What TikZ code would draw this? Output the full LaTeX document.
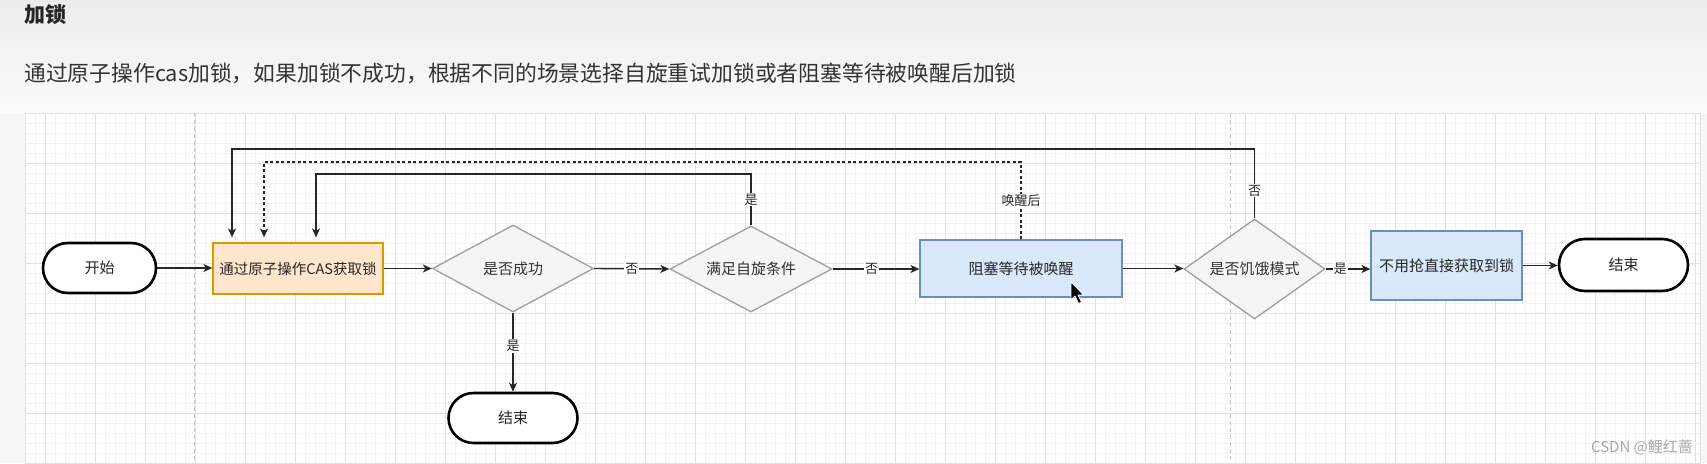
\documentclass[tikz,border=0pt]{standalone}
\usepackage{fontspec}
\setmainfont{Noto Sans CJK SC}
\usetikzlibrary{shapes.geometric,shapes.misc,arrows.meta}
\definecolor{casfill}{HTML}{FFE6CC}
\definecolor{casdraw}{HTML}{D79B00}
\definecolor{bluefill}{HTML}{DAE8FC}
\definecolor{bluedraw}{HTML}{6C8EBF}
\definecolor{diamfill}{HTML}{F5F5F5}
\definecolor{diamdraw}{HTML}{9E9E9E}
\definecolor{txt}{HTML}{333333}
\definecolor{gridminor}{HTML}{F2F2F2}
\definecolor{gridmajor}{HTML}{E1E1E1}
\definecolor{lanesep}{HTML}{C4C4C4}
\definecolor{bgside}{HTML}{F6F6F6}
\definecolor{wmark}{HTML}{A8A8A8}
\newcommand{\fsz}[1]{\fontsize{#1pt}{#1pt}\selectfont}
\begin{document}
\begin{tikzpicture}[x=1pt,y=-1pt,
  oval/.style={rounded rectangle, draw=black, line width=2.6pt, fill=white,
    minimum width=113pt, minimum height=50pt, inner sep=0pt, font=\fsz{15}, text=black!85},
  casbox/.style={rectangle, draw=casdraw, fill=casfill, line width=1.2pt,
    minimum width=170pt, minimum height=51pt, inner sep=0pt, font=\fsz{14.5}, text=black!85},
  bluebox/.style={rectangle, draw=bluedraw, fill=bluefill, line width=1.2pt,
    inner sep=0pt, font=\fsz{15}, text=black!85},
  decision/.style={diamond, aspect=2, draw=diamdraw, fill=diamfill, line width=1.3pt,
    inner sep=0pt, font=\fsz{15}, text=txt},
  conn/.style={draw=black!85, line width=1.4pt, -{Stealth[length=9pt,width=8pt,inset=2.5pt]}},
  lbl/.style={fill=white, inner sep=1pt, font=\fsz{13}, text=black!85},
  minorline/.style={draw=gridminor, line width=0.7pt},
  majorline/.style={draw=gridmajor, line width=1pt},
  lane/.style={draw=lanesep, line width=1pt, dash pattern=on 4pt off 3pt}
]
\useasboundingbox (0,0) rectangle (1707,463);
% background
\shade[top color=gray!15, bottom color=gray!3] (0,0) rectangle (1707,113);
\fill[bgside] (0,113) rectangle (1707,463);
\fill[white] (25,113) rectangle (1700,463);
% grid
\foreach \x in {25,35,...,1695} \draw[minorline] (\x,113) -- (\x,463);
\foreach \y in {123,133,...,463} \draw[minorline] (25,\y) -- (1700,\y);
\foreach \x in {45,95,...,1695} \draw[majorline] (\x,113) -- (\x,463);
\foreach \y in {113,163,...,463} \draw[majorline] (25,\y) -- (1700,\y);
\draw[majorline] (25,113) -- (25,463);
\draw[majorline] (1700,113) -- (1700,463);
% lane separators
\draw[lane] (194,113) -- (194,463);
\draw[lane] (1230,113) -- (1230,463);

% heading
\node[anchor=west, inner sep=0pt, font=\fsz{21}\bfseries, text=black!85] (title) at (24,15) {加锁};
\node[anchor=west, inner sep=0pt, font=\fsz{21.8}, text=txt] (subtitle) at (24,73)
  {通过原子操作cas加锁，如果加锁不成功，根据不同的场景选择自旋重试加锁或者阻塞等待被唤醒后加锁};

% nodes
\node[oval] (start) at (99.5,268) {开始};
\node[casbox] (cas) at (298,268.5) {通过原子操作CAS获取锁};
\node[decision, minimum width=161pt, minimum height=87pt] (q1) at (513,268.5) {是否成功};
\node[oval, minimum width=129pt] (end1) at (513,418) {结束};
\node[decision, minimum width=162pt, minimum height=86pt] (spin) at (751,269) {满足自旋条件};
\node[bluebox, minimum width=202pt, minimum height=57pt] (block) at (1021,268.5) {阻塞等待被唤醒};
\node[decision, minimum width=141pt, minimum height=100pt] (q3) at (1254.5,269) {是否饥饿模式};
\node[bluebox, minimum width=151pt, minimum height=69pt] (direct) at (1446.5,265.5) {不用抢直接获取到锁};
\node[oval, minimum width=129pt, minimum height=52pt] (end2) at (1623.5,265) {结束};

% loop-back corner coordinates
\coordinate (loopA) at (232,149);
\coordinate (loopB) at (264,162);
\coordinate (loopC) at (316,174);

% connectors
\draw[conn] (start.east) -- (start.east -| cas.west);
\draw[conn] (cas.east) -- (cas.east -| q1.west);
\draw[conn] (q1.south) -- node[lbl, pos=0.42] {是} (q1.south |- end1.north);
\draw[conn] (q1.east) -- node[lbl] {否} (spin.west);
\draw[conn] (spin.east) -- node[lbl, pos=0.45] {否} (spin.east -| block.west);
\draw[conn] (block.east) -- (block.east -| q3.west);
\draw[conn] (q3.east) -- node[lbl, pos=0.33] {是} (q3.east -| direct.west);
\draw[conn] (direct.east) -- (direct.east -| end2.west);
\draw[conn, shorten >=5pt] (spin.north) |- node[lbl, pos=0.25] {是} (loopC) -- (loopC |- cas.north);
\draw[conn, dash pattern=on 3pt off 2.5pt, shorten >=5pt] (block.north) |- node[lbl, pos=0.25] {唤醒后} (loopB) -- (loopB |- cas.north);
\draw[conn, shorten >=5pt] (q3.north) |- node[lbl, pos=0.2] {否} (loopA) -- (loopA |- cas.north);

% mouse cursor
\filldraw[fill=black, draw=white, line width=0.8pt, line join=round]
  (1071,282) -- ++(0,18) -- ++(4,-4) -- ++(3.5,7.5) -- ++(3,-1.4) -- ++(-3.5,-7.2) -- ++(5.6,0) -- cycle;

% watermark
\node[font=\fsz{15}, text=wmark, inner sep=0pt] (wm) at (1642,447) {CSDN @鲤红蔷};
\end{tikzpicture}
\end{document}
